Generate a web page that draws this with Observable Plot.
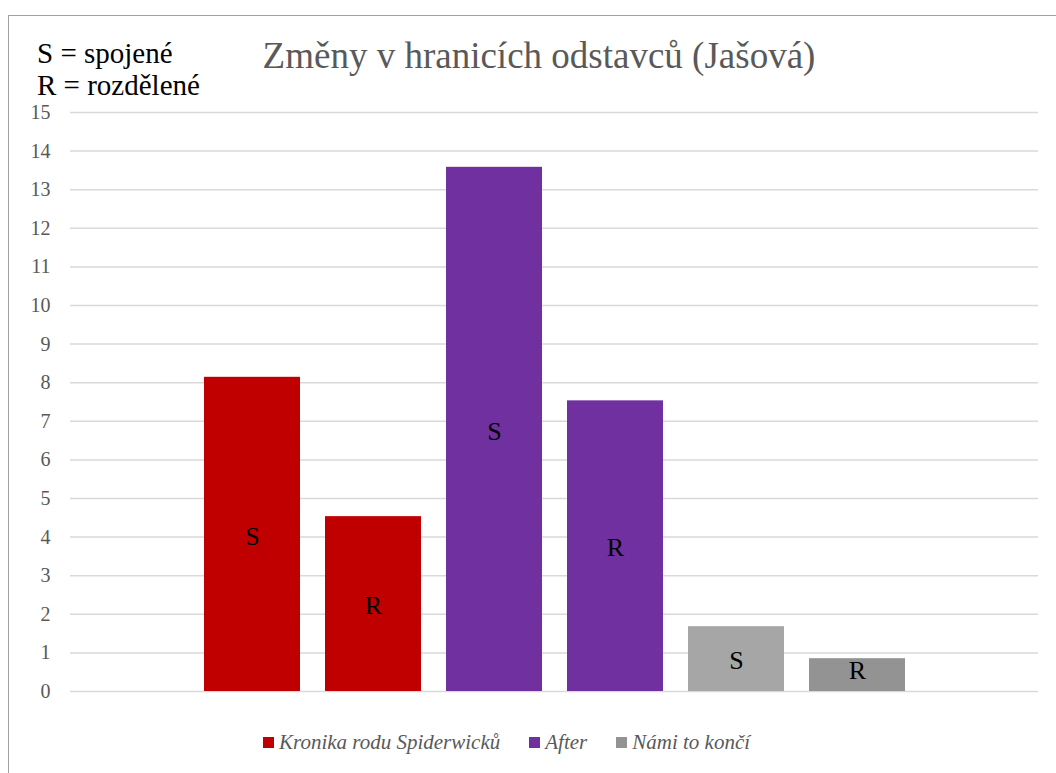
<!DOCTYPE html>
<html>
<head>
<meta charset="utf-8">
<script src="https://cdn.jsdelivr.net/npm/d3@7"></script>
<script src="https://cdn.jsdelivr.net/npm/@observablehq/plot@0.6"></script>
<style>
  html, body { margin: 0; padding: 0; background: #fff; }
  #wrap { position: relative; width: 1056px; height: 773px; overflow: hidden; font-family: 'Liberation Serif', serif; }
  #frame { position: absolute; left: 8px; top: 15px; width: 1100px; height: 800px; border: 1.5px solid #a0a0a0; box-sizing: border-box; }
  #note { position: absolute; left: 37px; top: 37px; font-family: 'Liberation Serif', serif; font-size: 29px; line-height: 32px; color: #000; }
  #title { position: absolute; left: 0; width: 1078px; top: 36px; text-align: center; font-family: 'Liberation Serif', serif; font-size: 37px; color: #595959; line-height: 40px; }
  #chart { position: absolute; left: 0; top: 100px; }
  #legend { position: absolute; left: 263px; top: 729px; display: flex; align-items: center; font-family: 'Liberation Serif', serif; font-size: 21px; font-style: italic; color: #595959; line-height: 26px; }
  .item { display: flex; align-items: center; margin-right: 29px; }
  .sw { width: 11px; height: 11px; margin-right: 5px; }
  #chart svg text { font-family: 'Liberation Serif', serif; }
</style>
</head>
<body>
<div id="wrap">
  <div id="frame"></div>
  <div id="note"></div>
  <div id="title"></div>
  <div id="chart"></div>
  <div id="legend"></div>
</div>
<script>
const titleText = "Změny v hranicích odstavců (Jašová)";
const noteLines = ["S = spojené", "R = rozdělené"];
const books = ["Kronika rodu Spiderwicků", "After", "Námi to končí"];
const types = ["S", "R"];
const sValues = [8.14, 13.58, 1.68];
const rValues = [4.53, 7.53, 0.85];
const sColors = ["#C00000", "#7030A0", "#A6A6A6"];
const rColors = ["#C00000", "#7030A0", "#939393"];
const legendColors = ["#C00000", "#7030A0", "#939393"];
const yTicks = [0,1,2,3,4,5,6,7,8,9,10,11,12,13,14,15];

const rows = [];
books.forEach((b, i) => {
  rows.push({key: b + "|S", book: b, type: "S", value: sValues[i], color: sColors[i]});
  rows.push({key: b + "|R", book: b, type: "R", value: rValues[i], color: rColors[i]});
});

document.getElementById("title").textContent = titleText;
document.getElementById("note").innerHTML = noteLines.map(t => `<div>${t}</div>`).join("");

const chart = Plot.plot({
  width: 1056,
  height: 601,
  marginTop: 12,
  marginBottom: 10,
  marginLeft: 70,
  marginRight: 18,
  style: {fontFamily: "'Liberation Serif', serif", fontSize: "20px", background: "transparent"},
  x: {domain: rows.map(d => d.key), paddingInner: 0.207, paddingOuter: 1.1, axis: null},
  y: {domain: [0, 15], axis: null},
  color: {type: "identity"},
  marks: [
    Plot.gridY(yTicks, {stroke: "#d9d9d9", strokeOpacity: 1, strokeWidth: 1.5}),
    Plot.axisY(yTicks, {tickSize: 0, tickPadding: 20, fill: "#595959", fontSize: 20, label: null, tickFormat: d => String(d)}),
    Plot.barY(rows, {x: "key", y: "value", fill: "color"}),
    Plot.text(rows, {x: "key", y: d => Math.max(d.value / 2, 0.6), text: "type", fill: "#000", fontSize: 26, dy: 2})
  ]
});
document.getElementById("chart").appendChild(chart);

const legend = document.getElementById("legend");
books.forEach((b, i) => {
  const it = document.createElement("div");
  it.className = "item";
  it.innerHTML = `<span class="sw" style="background:${legendColors[i]}"></span><span>${b}</span>`;
  legend.appendChild(it);
});
</script>
</body>
</html>
